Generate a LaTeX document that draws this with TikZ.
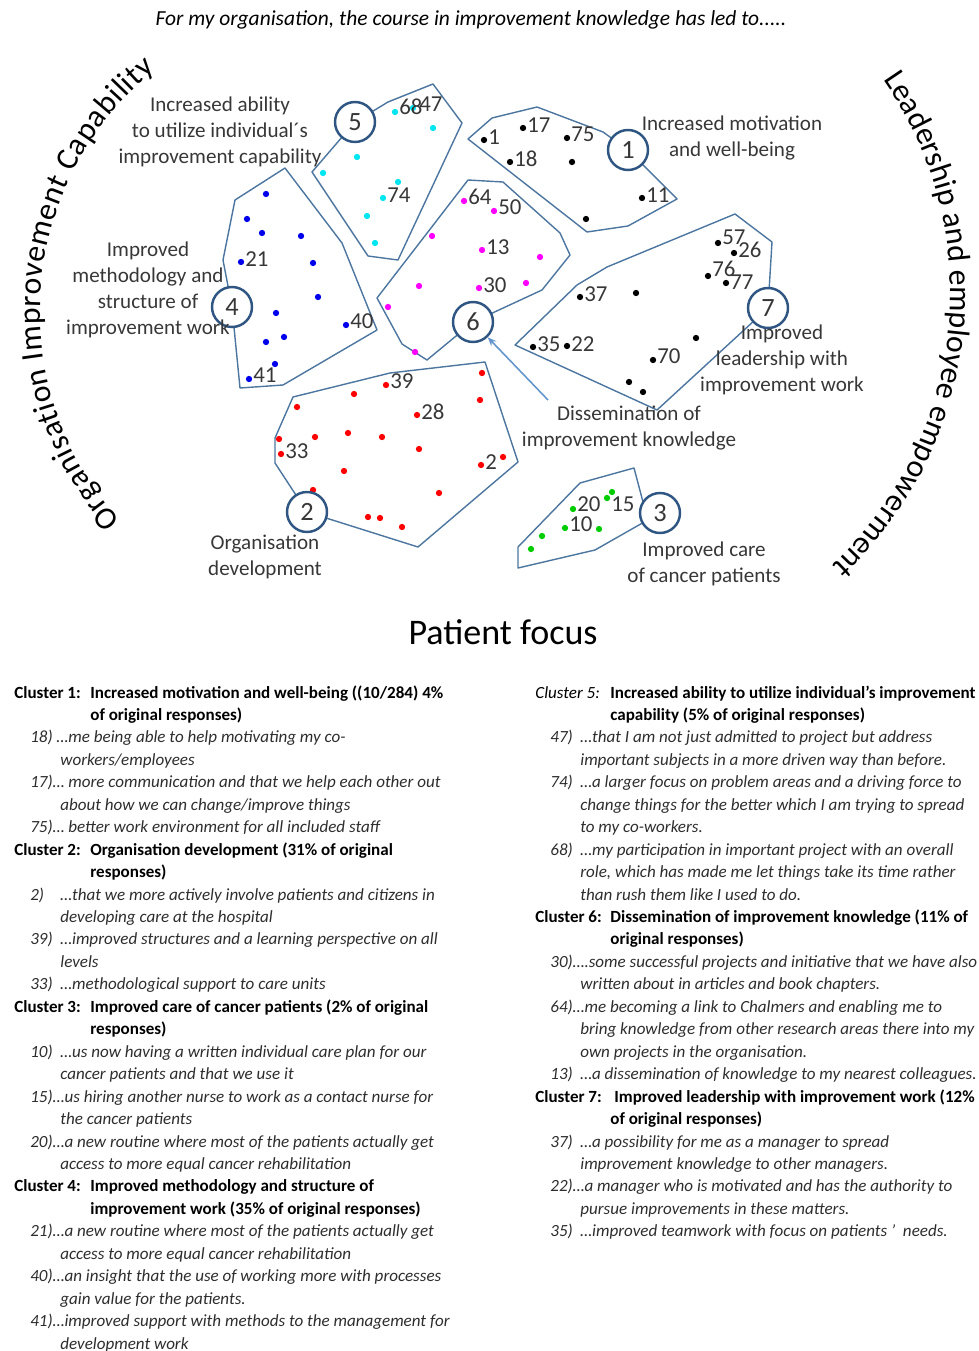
\documentclass[tikz,border=0pt]{standalone}
\usepackage{fontspec}
\setmainfont{Carlito}
\usetikzlibrary{decorations.text,arrows.meta}

\definecolor{hullblue}{RGB}{76,118,160}
\definecolor{ringblue}{RGB}{47,86,130}
\definecolor{arrowblue}{RGB}{98,150,205}
\definecolor{labelgray}{RGB}{55,55,55}
\definecolor{quotegray}{RGB}{45,45,45}
\definecolor{dotcyan}{RGB}{0,230,240}
\definecolor{dotblue}{RGB}{0,0,235}
\definecolor{dotmagenta}{RGB}{255,0,255}
\definecolor{dotred}{RGB}{255,0,0}
\definecolor{dotgreen}{RGB}{0,205,0}

\begin{document}
\begin{tikzpicture}[x=0.02cm,y=-0.02cm,
  hull/.style={draw=hullblue,line width=0.8pt,line join=round},
  ring/.style={circle,draw=ringblue,line width=1.4pt,fill=white,minimum size=0.8cm,inner sep=0pt,text=labelgray,font=\fontsize{15}{15}\selectfont},
  clabel/.style={align=center,text=labelgray,font=\fontsize{12}{14.8}\selectfont},
  num/.style={anchor=west,inner sep=0pt,text=labelgray,font=\fontsize{13}{13}\selectfont},
  head/.style={anchor=base west,inner sep=0pt,font=\fontsize{9.7}{11}\selectfont\bfseries},
  quote/.style={anchor=base west,inner sep=0pt,text=quotegray,font=\fontsize{9.7}{11}\selectfont\itshape}]

\useasboundingbox (0,0) rectangle (978,1351);

% title and the three axis words
\node[font=\fontsize{12.2}{14}\selectfont\itshape] (title) at (471,20) {For my organisation, the course in improvement knowledge has led to.....};
\node[font=\fontsize{20.5}{22}\selectfont] (focus) at (503,632) {Patient focus};
\coordinate (lc) at (352,312);
\coordinate (rc) at (578,293);
\path[decorate,decoration={text along path,text align={fit to path},text={|\fontsize{18}{20}\selectfont|Organisation Improvement Capability}}]
  ([shift={(222:6.24cm)}]lc) arc[start angle=222,end angle=129,radius=6.24cm];
\path[decorate,decoration={text along path,text align={fit to path},text={|\fontsize{18}{20}\selectfont|Leadership and employee empowerment}}]
  ([shift={(35:7.45cm)}]rc) arc[start angle=35,end angle=-47,radius=7.45cm];

% cluster centres
\coordinate (p1) at (628,150);
\coordinate (p2) at (307,512);
\coordinate (p3) at (660,513);
\coordinate (p4) at (232,307);
\coordinate (p5) at (355,122);
\coordinate (p6) at (473,322);
\coordinate (p7) at (768,308);

% hulls
\draw[hull] (468,139)--(492,118)--(537,107)--(603,132)--(p1)--(677,199)--(628,226)--(587,232)--cycle;
\draw[hull] (293,397)--(390,373)--(485,362)--(518,462)--(418,547)--(p2)--(275,463)--(275,438)--cycle;
\draw[hull] (580,483)--(634,468)--(643,502)--(p3)--(595,550)--(518,568)--(518,547)--cycle;
\draw[hull] (285,168)--(342,243)--(377,330)--(283,385)--(240,388)--(p4)--(223,260)--(235,200)--cycle;
\draw[hull] (388,102)--(433,84)--(462,123)--(398,260)--(368,256)--(312,172)--(p5)--cycle;
\draw[hull] (468,180)--(503,182)--(560,233)--(570,255)--(542,290)--(p6)--(427,360)--(402,344)--(377,298)--cycle;
\draw[hull] (515,345)--(577,285)--(607,267)--(735,214)--(772,242)--(p7)--(657,410)--cycle;

% responses
\foreach \x/\y in {395/112,413/108,433/128,357/157,323/173,398/182,383/198,367/216,375/243}
  \fill[dotcyan] (\x,\y) circle (1.8pt);
\foreach \x/\y in {266/194,247/219,262/233,301/236,241/262,313/263,318/297,276/313,346/325,266/342,284/337,275/364,249/379}
  \fill[dotblue] (\x,\y) circle (1.8pt);
\foreach \x/\y in {464/201,494/211,432/236,482/250,540/257,419/286,479/288,526/283,388/307,415/352}
  \fill[dotmagenta] (\x,\y) circle (1.8pt);
\foreach \x/\y in {297/407,354/394,386/385,482/373,480/400,417/415,279/439,315/437,348/433,382/437,419/449,281/454,344/471,481/465,503/457,313/490,439/493,368/517,380/518,402/527}
  \fill[dotred] (\x,\y) circle (1.8pt);
\foreach \x/\y in {612/492,607/498,573/509,565/528,599/529,542/536,531/549}
  \fill[dotgreen] (\x,\y) circle (1.8pt);
\foreach \x/\y in {484/140,523/128,567/138,510/162,572/162,642/198,586/219,
                   718/243,734/253,708/276,726/283,580/297,636/293,533/347,567/346,696/338,653/360,629/382,643/392}
  \fill (\x,\y) circle (1.8pt);

% response numbers
\foreach \n/\x/\y in {1/488/137,17/527/125,75/571/134,18/514/159,11/646/195,
                      57/722/237,26/738/250,76/712/269,77/730/282,37/584/294,35/537/344,22/571/344,70/657/356,
                      64/468/197,50/498/207,13/486/247,30/483/285,
                      68/399/107,47/419/104,74/387/195,
                      21/245/259,40/350/321,41/253/375,
                      39/390/381,28/421/412,33/285/451,2/485/462,
                      20/577/504,15/611/504,10/569/524}
  \node[num] (d\n) at (\x,\y) {\n};

% cluster rings
\foreach \k in {1,...,7}
  \node[ring] (c\k) at (p\k) {\k};

% cluster names
\node[clabel] (lab1) at (732,138) {Increased motivation\\and well-being};
\node[clabel] (lab2) at (265,557) {Organisation\\development};
\node[clabel] (lab3) at (704,564) {Improved care\\of cancer patients};
\node[clabel] (lab4) at (148,290) {Improved\\methodology and\\structure of\\improvement work};
\node[clabel] (lab5) at (220,132) {Increased ability\\to utilize individual´s\\improvement capability};
\node[clabel] (lab6) at (629,428) {Dissemination of\\improvement knowledge};
\node[clabel] (lab7) at (782,360) {Improved\\leadership with\\improvement work};
\coordinate (atail) at (548,400);
\draw[arrowblue,line width=0.9pt,-{Stealth[length=5pt,width=4pt]}] (atail)--(c6);

% legend, left column
\foreach \r/\x/\t [count=\i] in {0/14/{Cluster 1:},0/90/{Increased motivation and well-being ((10/284) 4\%},1/90/{of original responses)},
    7/14/{Cluster 2:},7/90/{Organisation development (31\% of original},8/90/{responses)},
    14/14/{Cluster 3:},14/90/{Improved care of cancer patients (2\% of original},15/90/{responses)},
    22/14/{Cluster 4:},22/90/{Improved methodology and structure of},23/90/{improvement work (35\% of original responses)}}
  \node[head] (lh\i) at (\x,698+22.45*\r) {\t};
\foreach \r/\x/\t [count=\i] in {2/30/{18) …me being able to help motivating my co-},3/60/{workers/employees},
    4/30/{17)… more communication and that we help each other out},5/60/{about how we can change/improve things},
    6/30/{75)… better work environment for all included staff},
    9/30/{2)},9/60/{…that we more actively involve patients and citizens in},10/60/{developing care at the hospital},
    11/30/{39)},11/60/{…improved structures and a learning perspective on all},12/60/{levels},
    13/30/{33)},13/60/{…methodological support to care units},
    16/30/{10)},16/60/{…us now having a written individual care plan for our},17/60/{cancer patients and that we use it},
    18/30/{15)…us hiring another nurse to work as a contact nurse for},19/60/{the cancer patients},
    20/30/{20)…a new routine where most of the patients actually get},21/60/{access to more equal cancer rehabilitation},
    24/30/{21)…a new routine where most of the patients actually get},25/60/{access to more equal cancer rehabilitation},
    26/30/{40)…an insight that the use of working more with processes},27/60/{gain value for the patients.},
    28/30/{41)…improved support with methods to the management for},29/60/{development work}}
  \node[quote] (lq\i) at (\x,698+22.45*\r) {\t};

% legend, right column
\node[head,font=\fontsize{9.7}{11}\selectfont\itshape] (rh0) at (535,698) {Cluster 5:};
\foreach \r/\x/\t [count=\i] in {0/610/{Increased ability to utilize individual’s improvement},1/610/{capability (5\% of original responses)},
    10/535/{Cluster 6:},10/610/{Dissemination of improvement knowledge (11\% of},11/610/{original responses)},
    18/535/{Cluster 7:},18/614/{Improved leadership with improvement work (12\%},19/610/{of original responses)}}
  \node[head] (rh\i) at (\x,698+22.45*\r) {\t};
\foreach \r/\x/\t [count=\i] in {2/550/{47)},2/580/{…that I am not just admitted to project but address},3/580/{important subjects in a more driven way than before.},
    4/550/{74)},4/580/{…a larger focus on problem areas and a driving force to},5/580/{change things for the better which I am trying to spread},6/580/{to my co-workers.},
    7/550/{68)},7/580/{…my participation in important project with an overall},8/580/{role, which has made me let things take its time rather},9/580/{than rush them like I used to do.},
    12/550/{30)….some successful projects and initiative that we have also},13/580/{written about in articles and book chapters.},
    14/550/{64)…me becoming a link to Chalmers and enabling me to},15/580/{bring knowledge from other research areas there into my},16/580/{own projects in the organisation.},
    17/550/{13)},17/580/{…a dissemination of knowledge to my nearest colleagues.},
    20/550/{37)},20/580/{…a possibility for me as a manager to spread},21/580/{improvement knowledge to other managers.},
    22/550/{22)…a manager who is motivated and has the authority to},23/580/{pursue improvements in these matters.},
    24/550/{35)},24/580/{…improved teamwork with focus on patients ’\ \ needs.}}
  \node[quote] (rq\i) at (\x,698+22.45*\r) {\t};
\end{tikzpicture}
\end{document}
